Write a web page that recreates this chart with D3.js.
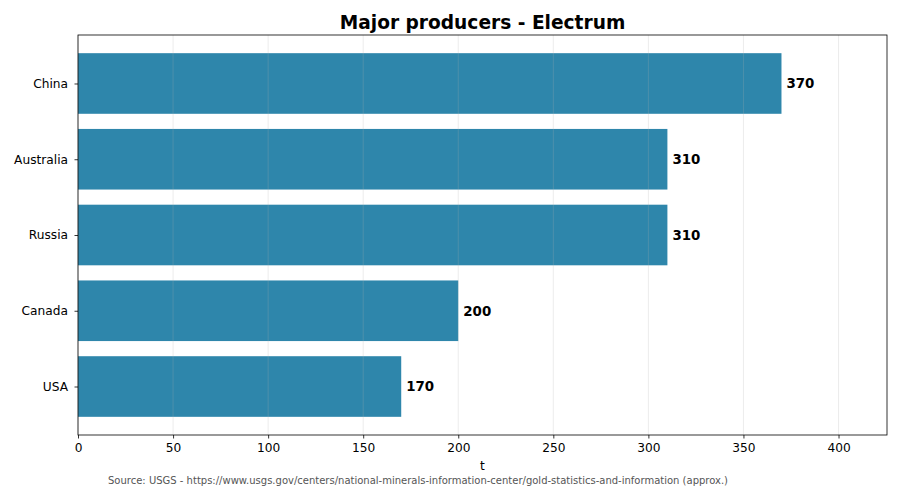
<!DOCTYPE html>
<html>
<head>
<meta charset="utf-8">
<script src="https://cdn.jsdelivr.net/npm/d3@7"></script>
<style>
  html, body { margin: 0; padding: 0; background: #fff; }
  svg { display: block; font-family: "DejaVu Sans", sans-serif; }
</style>
</head>
<body>
<svg id="chart" width="900" height="486"></svg>
<script>
const categories = ["China", "Australia", "Russia", "Canada", "USA"];
const values = [370, 310, 310, 200, 170];
const xTicks = [0, 50, 100, 150, 200, 250, 300, 350, 400];
const titleText = "Major producers - Electrum";
const xLabel = "t";
const sourceText = "Source: USGS - https://www.usgs.gov/centers/national-minerals-information-center/gold-statistics-and-information (approx.)";

const svg = d3.select("#chart");
const W = 900, H = 486;
const m = { left: 78, right: 13, top: 35, bottom: 51 };
const x0 = m.left, x1 = W - m.right, y0 = m.top, y1 = H - m.bottom;

const x = d3.scaleLinear().domain([0, d3.max(values) * 1.15]).range([x0, x1]);
// matplotlib-like positions: index 0 at top
const n = categories.length;
const barH = 0.8;
const pad = 0.05 * (n - 1 + barH);
const y = d3.scaleLinear().domain([-barH / 2 - pad, n - 1 + barH / 2 + pad]).range([y0, y1]);

// bars
svg.append("g").selectAll("rect").data(values).join("rect")
  .attr("x", x(0))
  .attr("y", (d, i) => y(i - barH / 2))
  .attr("width", d => x(d) - x(0))
  .attr("height", (d, i) => y(i + barH / 2) - y(i - barH / 2))
  .attr("fill", "#2E86AB");

// grid (on top, translucent)
svg.append("g").selectAll("line").data(xTicks).join("line")
  .attr("x1", d => x(d)).attr("x2", d => x(d))
  .attr("y1", y0).attr("y2", y1)
  .attr("stroke", "#b0b0b0").attr("stroke-opacity", 0.3).attr("stroke-width", 0.8);

// value labels
svg.append("g").selectAll("text").data(values).join("text")
  .attr("x", d => x(d) + 5)
  .attr("y", (d, i) => y(i))
  .attr("dy", "0.36em")
  .attr("font-size", 13.4)
  .attr("font-weight", "bold")
  .attr("fill", "#000")
  .text(d => d);

// x axis
const xAxis = d3.axisBottom(x).tickValues(xTicks).tickSize(3.5).tickPadding(4.5).tickFormat(d3.format("d"));
const gx = svg.append("g").attr("transform", `translate(0,${y1})`).call(xAxis);
gx.select(".domain").remove();
gx.selectAll("text").attr("font-size", 12.2).attr("font-family", "DejaVu Sans").attr("fill", "#000");
gx.selectAll("line").attr("stroke", "#000").attr("stroke-width", 0.8);

// y axis
const yAxis = d3.axisLeft(y).tickValues(d3.range(n)).tickSize(3.5).tickPadding(6.5).tickFormat(i => categories[i]);
const gy = svg.append("g").attr("transform", `translate(${x0},0)`).call(yAxis);
gy.select(".domain").remove();
gy.selectAll("text").attr("font-size", 12.2).attr("font-family", "DejaVu Sans").attr("fill", "#000");
gy.selectAll("line").attr("stroke", "#000").attr("stroke-width", 0.8);

// frame
svg.append("rect").attr("x", x0).attr("y", y0).attr("width", x1 - x0).attr("height", y1 - y0)
  .attr("fill", "none").attr("stroke", "#000").attr("stroke-width", 0.8);

// title
svg.append("text").attr("x", (x0 + x1) / 2).attr("y", 28.5)
  .attr("text-anchor", "middle").attr("font-size", 18.6).attr("font-weight", "bold").text(titleText);

// x label
svg.append("text").attr("x", (x0 + x1) / 2).attr("y", 470)
  .attr("text-anchor", "middle").attr("font-size", 12.2).text(xLabel);

// source
svg.append("text").attr("x", 108).attr("y", 484)
  .attr("font-size", 10).attr("fill", "#555").text(sourceText);
</script>
</body>
</html>
